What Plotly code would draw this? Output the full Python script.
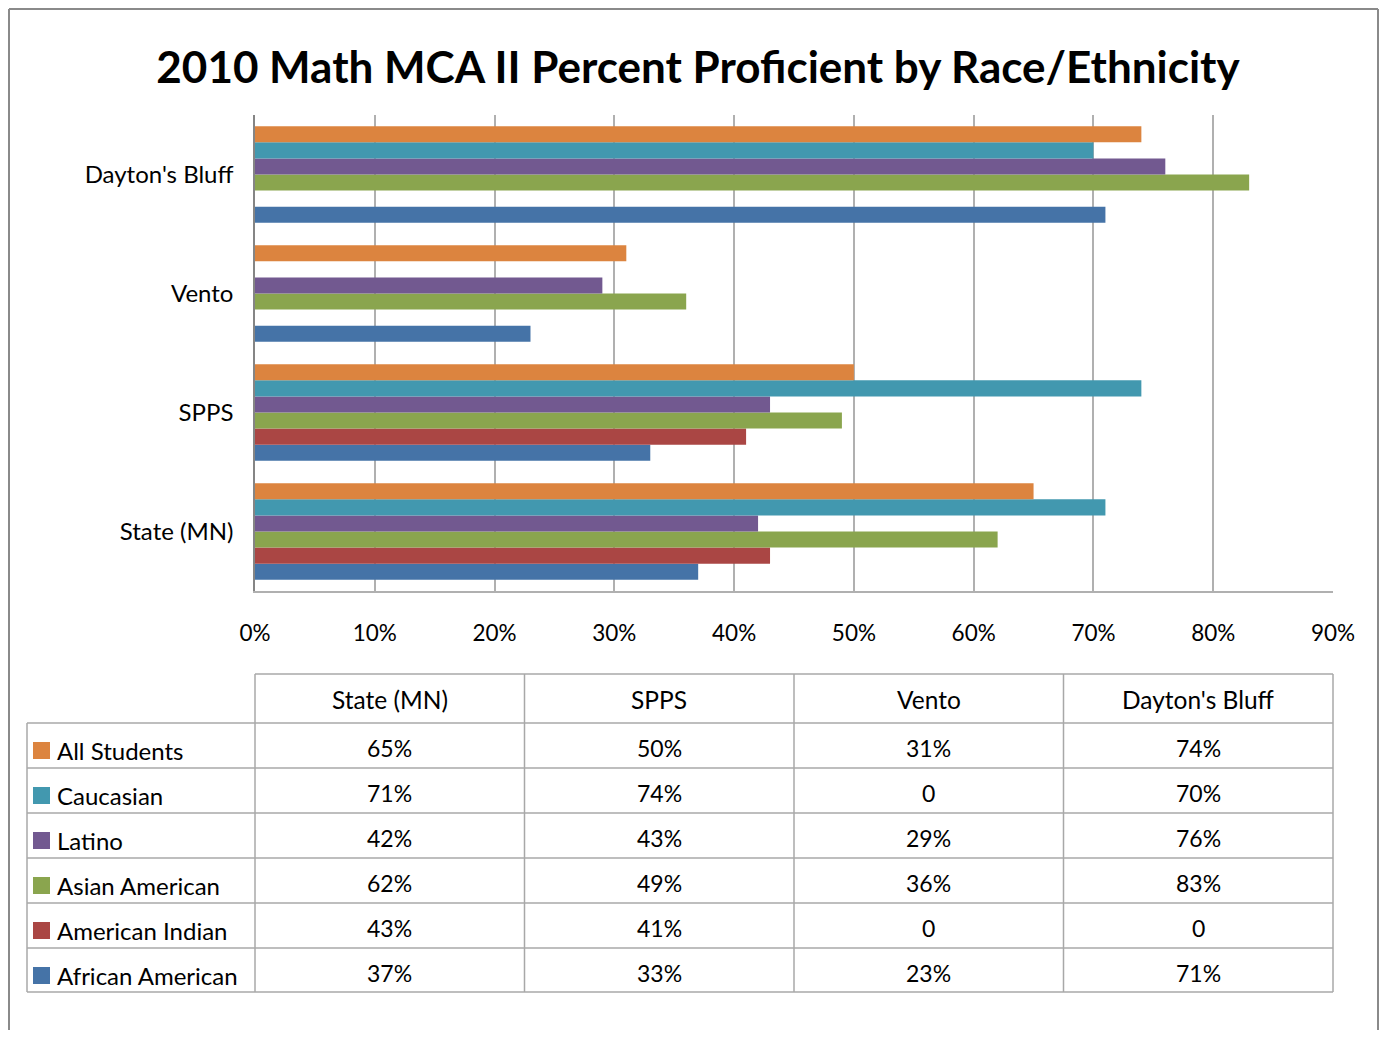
import plotly.graph_objects as go

categories = ["State (MN)", "SPPS", "Vento", "Dayton's Bluff"]
series_names = ["All Students", "Caucasian", "Latino", "Asian American", "American Indian", "African American"]
all_students = [65, 50, 31, 74]
caucasian = [71, 74, 0, 70]
latino = [42, 43, 29, 76]
asian_american = [62, 49, 36, 83]
american_indian = [43, 41, 0, 0]
african_american = [37, 33, 23, 71]
table_text = {
    "All Students": ["65%", "50%", "31%", "74%"],
    "Caucasian": ["71%", "74%", "0", "70%"],
    "Latino": ["42%", "43%", "29%", "76%"],
    "Asian American": ["62%", "49%", "36%", "83%"],
    "American Indian": ["43%", "41%", "0", "0"],
    "African American": ["37%", "33%", "23%", "71%"],
}
tick_vals = [0, 10, 20, 30, 40, 50, 60, 70, 80, 90]
tick_text = ["0%", "10%", "20%", "30%", "40%", "50%", "60%", "70%", "80%", "90%"]

values = {
    "All Students": all_students,
    "Caucasian": caucasian,
    "Latino": latino,
    "Asian American": asian_american,
    "American Indian": american_indian,
    "African American": african_american,
}
colors = {
    "All Students": "rgb(220,132,63)",
    "Caucasian": "rgb(66,152,175)",
    "Latino": "rgb(114,89,144)",
    "Asian American": "rgb(138,165,78)",
    "American Indian": "rgb(170,70,68)",
    "African American": "rgb(69,115,167)",
}

OFF = 8  # page body margin
W, H = 1388 - OFF, 1038 - 2 * OFF
L, R, T, B = 255, 1333, 115, 591   # plot area in screen pixels
FONT = "Lato"

fig = go.Figure()
for name in reversed(series_names):
    fig.add_trace(go.Bar(
        y=categories, x=values[name], name=name, orientation="h",
        marker=dict(color=colors[name], line=dict(width=0)),
        showlegend=False, hoverinfo="x+name",
    ))

def px(x):
    return (x - L) / (R - L)

def py(y):
    return (B - y) / (B - T)

shapes = []
annotations = []
grid = "#b0b0b0"
tgrid = "#a8a8a8"

# outer border (drawn as separate lines)
RB = 1378
bcol = dict(color="#8a8a8a", width=2)
shapes.append(dict(type="line", xref="paper", yref="paper", x0=px(9), x1=px(RB), y0=py(9), y1=py(9), line=bcol))
shapes.append(dict(type="line", xref="paper", yref="paper", x0=px(9), x1=px(9), y0=py(9), y1=py(1060), line=bcol))
shapes.append(dict(type="line", xref="paper", yref="paper", x0=px(RB), x1=px(RB), y0=py(9), y1=py(1060), line=bcol))

# table geometry
col_edges = [255, 524.5, 794, 1063.5, 1333]
row_edges = [674, 723, 768, 813, 858, 903, 948, 992]
leg_left = 27

shapes.append(dict(type="line", xref="paper", yref="paper", x0=px(255), x1=px(1333), y0=py(674), y1=py(674),
                   line=dict(color=tgrid, width=1.5)))
for xe in col_edges:
    shapes.append(dict(type="line", xref="paper", yref="paper", x0=px(xe), x1=px(xe), y0=py(674), y1=py(992),
                       line=dict(color=tgrid, width=1.5)))
shapes.append(dict(type="line", xref="paper", yref="paper", x0=px(leg_left), x1=px(leg_left), y0=py(723), y1=py(992),
                   line=dict(color=tgrid, width=1.5)))
for ye in row_edges[1:]:
    shapes.append(dict(type="line", xref="paper", yref="paper", x0=px(leg_left), x1=px(1333), y0=py(ye), y1=py(ye),
                       line=dict(color=tgrid, width=1.5)))

for j, cat in enumerate(categories):
    xc = (col_edges[j] + col_edges[j + 1]) / 2
    annotations.append(dict(xref="paper", yref="paper", x=px(xc), y=py(699), text=cat, showarrow=False,
                            font=dict(family=FONT, size=24.5, color="black"), xanchor="center", yanchor="middle"))

for i, name in enumerate(series_names):
    top = row_edges[i + 1]
    yc = top + 27
    shapes.append(dict(type="rect", xref="paper", yref="paper", x0=px(33), x1=px(50), y0=py(top + 36), y1=py(top + 19),
                       fillcolor=colors[name], line=dict(width=0)))
    annotations.append(dict(xref="paper", yref="paper", x=px(55), y=py(yc), text=name, showarrow=False,
                            font=dict(family=FONT, size=24, color="black"), xanchor="left", yanchor="middle"))
    for j in range(4):
        xc = (col_edges[j] + col_edges[j + 1]) / 2
        annotations.append(dict(xref="paper", yref="paper", x=px(xc), y=py(top + 25), text=table_text[name][j],
                                showarrow=False, font=dict(family=FONT, size=23, color="black"),
                                xanchor="center", yanchor="middle"))

fig.update_layout(
    width=W, height=H,
    margin=dict(l=L - OFF, r=1388 - R, t=T - OFF, b=(H + OFF) - B, pad=0),
    paper_bgcolor="white", plot_bgcolor="white",
    barmode="group", bargap=0.19, bargroupgap=0,
    title=dict(text="<b>2010 Math MCA II Percent Proficient by Race/Ethnicity</b>", x=0.5, xanchor="center",
               y=1 - (68 - OFF) / H, yanchor="middle", font=dict(family=FONT, size=44, color="black")),
    xaxis=dict(range=[0, 90], tickvals=tick_vals, ticktext=tick_text, showgrid=True, gridcolor=grid, gridwidth=1.5,
               showline=True, linecolor=grid, linewidth=1.5, ticks="", zeroline=False,
               tickfont=dict(family=FONT, size=22.5, color="black"), ticklabelstandoff=21, fixedrange=True),
    yaxis=dict(categoryorder="array", categoryarray=categories, showgrid=False, showline=True,
               linecolor="#858585", linewidth=1.5, ticks="", tickfont=dict(family=FONT, size=24, color="black"),
               ticklabelstandoff=15),
    shapes=shapes, annotations=annotations,
)

fig.write_html("out.html")
